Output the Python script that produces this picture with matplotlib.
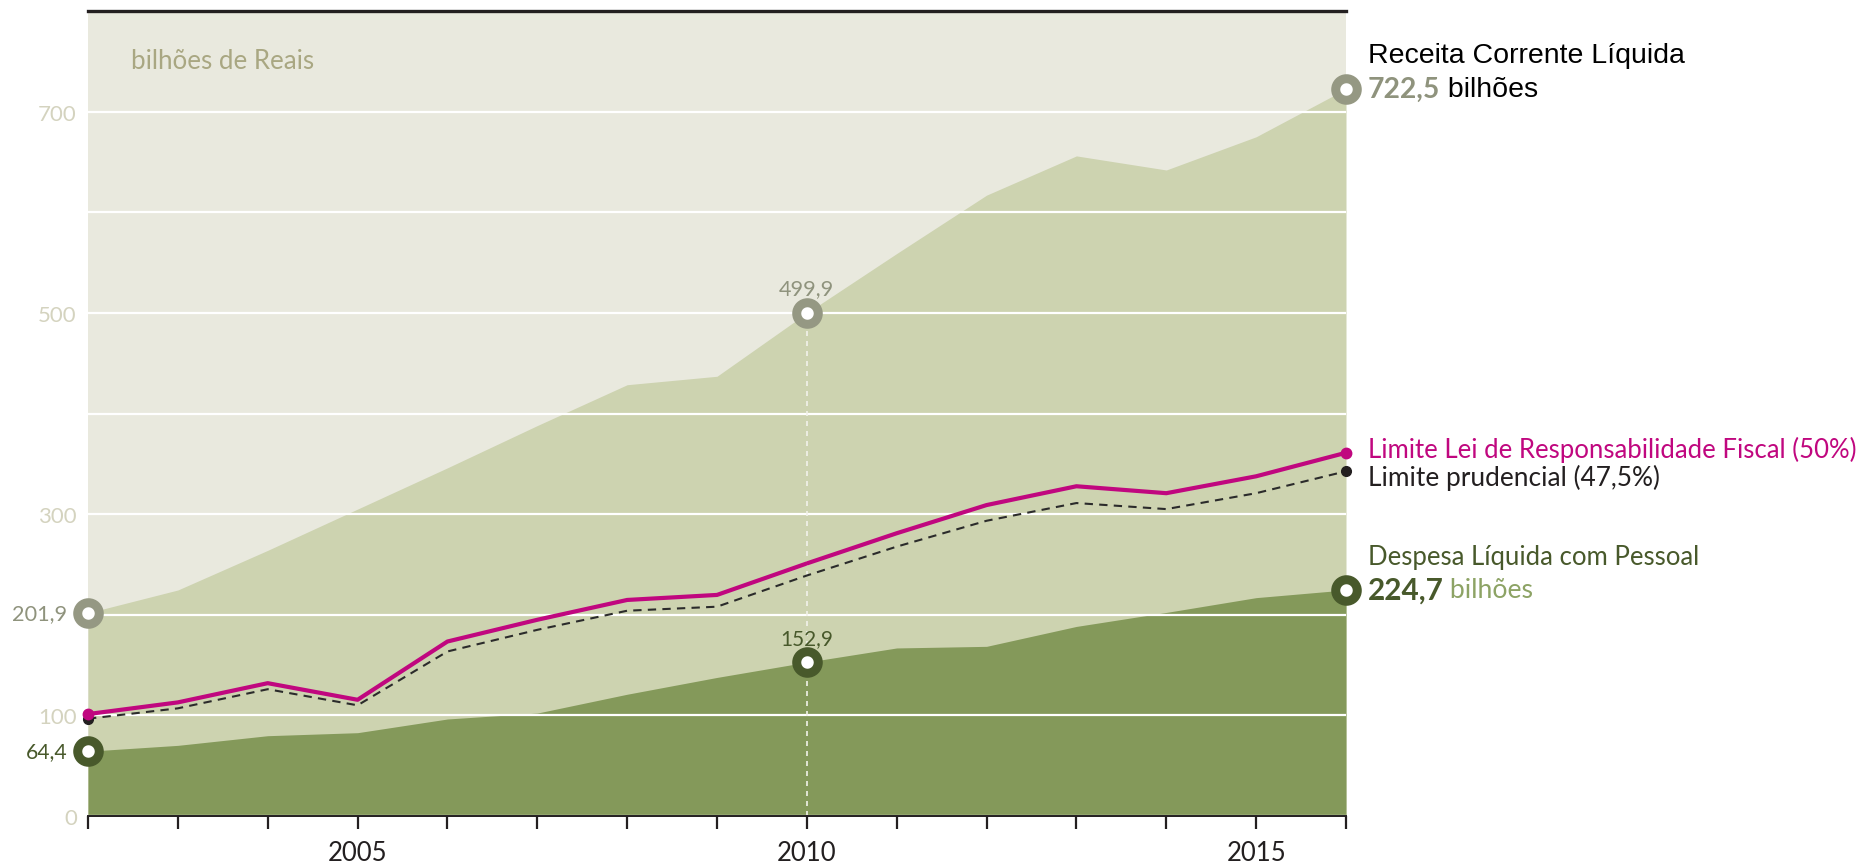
import matplotlib
matplotlib.use('Agg')
import matplotlib.pyplot as plt

# values (bilhões de Reais)
years = list(range(2002, 2017))
receita = [201.9, 224.6, 264, 305, 346, 388, 428.6, 437, 499.9, 559, 617, 656, 642, 675, 722.5]
despesa = [64.4, 70.2, 79.8, 82.8, 96.4, 102.3, 121, 137.7, 152.9, 167, 168.6, 188.4, 202.3, 217, 224.7]
limite_lrf = [101.3, 112.9, 132, 115.5, 173.4, 195, 214.7, 219.7, 251, 281, 309, 327.7, 320.8, 337.6, 361]
limite_prud = [96.7, 107, 126, 110, 163.5, 185, 204, 208, 239, 267.7, 293.4, 311, 305, 320.8, 342.6]

ytick_vals = [0, 100, 200, 300, 400, 500, 600, 700]
ytick_labels = ['0', '100', '', '300', '', '500', '', '700']
xtick_labels = ['', '', '', '2005', '', '', '', '', '2010', '', '', '', '', '2015', '']

# colours
bg = '#E9E9DE'
mid = '#CDD3B0'
dark = '#84995A'
ring_gray = '#959883'
ring_dark = '#48592B'
magenta = '#C0077F'
pale = '#D4D3BF'
txt_gray = '#8F937D'
ink = '#231F20'

plt.rcParams['font.family'] = ['Lato', 'DejaVu Sans']

W, H = 1865, 862
fig = plt.figure(figsize=(W / 100, H / 100), dpi=100)
ax = fig.add_axes([88 / W, 1 - 817 / H, (1346 - 88) / W, (817 - 12) / H])
ax.set_facecolor(bg)

ax.fill_between(years, 0, receita, color=mid, lw=0, zorder=1)
ax.fill_between(years, 0, despesa, color=dark, lw=0, zorder=1.1)

ax.set_xlim(2002, 2016)
ax.set_ylim(0, 800)

ax.set_yticks(ytick_vals)
ax.set_yticklabels(ytick_labels)
ax.grid(True, axis='y', color='white', lw=1.6)
ax.tick_params(axis='y', length=0, pad=8, labelcolor=pale, labelsize=16)

ax.set_xticks(years)
ax.set_xticklabels(xtick_labels)
ax.tick_params(axis='x', direction='out', length=9, width=1.6, color=ink,
               labelcolor=ink, labelsize=18.5, pad=8)

for s in ['left', 'right']:
    ax.spines[s].set_visible(False)
ax.spines['top'].set_linewidth(2.4)
ax.spines['top'].set_color(ink)
ax.spines['bottom'].set_linewidth(1.4)
ax.spines['bottom'].set_color(ink)

# dashed guide at 2010
i10 = years.index(2010)
ax.vlines(2010, 0, receita[i10], colors='#F2F2EA', lw=1.2, linestyles=(0, (3, 3)), zorder=2)

# limit lines
ax.plot(years, limite_lrf, color=magenta, lw=3, zorder=3, solid_capstyle='round')
ax.plot(years, limite_prud, color='#2B2B2B', lw=1.5, dashes=(4, 3), zorder=3)
ax.plot([years[0], years[-1]], [limite_lrf[0], limite_lrf[-1]], 'o', color=magenta,
        ms=7.5, zorder=4, clip_on=False)
ax.plot([years[0], years[-1]], [limite_prud[0], limite_prud[-1]], 'o', color=ink,
        ms=7, zorder=3.9, clip_on=False)

# ring markers
for idx in [0, i10, len(years) - 1]:
    ax.plot(years[idx], receita[idx], 'o', ms=15.5, mew=6.5, mfc='white', mec=ring_gray,
            zorder=5, clip_on=False)
    ax.plot(years[idx], despesa[idx], 'o', ms=15.5, mew=6.5, mfc='white', mec=ring_dark,
            zorder=5, clip_on=False)


def fmt(v):
    return f'{v:.1f}'.replace('.', ',')


renderer = fig.canvas.get_renderer()


def fit(t, width_px):
    # scale font so the text spans the same width as in the reference
    w = t.get_window_extent(renderer).width
    t.set_fontsize(t.get_fontsize() * width_px / w)
    return t


# value labels
fit(ax.annotate(fmt(receita[0]), (years[0], receita[0]), xytext=(-15, 0), textcoords='offset points',
                ha='right', va='center', fontsize=16, color=txt_gray, annotation_clip=False), 55)
fit(ax.annotate(fmt(despesa[0]), (years[0], despesa[0]), xytext=(-15, 0), textcoords='offset points',
                ha='right', va='center', fontsize=16, color=ring_dark, annotation_clip=False), 42)
fit(ax.annotate(fmt(receita[i10]), (2010, receita[i10]), xytext=(0, 18), textcoords='offset points',
                ha='center', va='center', fontsize=16, color=txt_gray), 55)
fit(ax.annotate(fmt(despesa[i10]), (2010, despesa[i10]), xytext=(0, 17), textcoords='offset points',
                ha='center', va='center', fontsize=16, color=ring_dark), 53)

fit(ax.text(0.034, 0.938, 'bilhões de Reais', transform=ax.transAxes, fontsize=18,
            color='#A9A782', va='center', ha='left'), 182)

# right side labels
xr = 2016.24
ax.text(xr, 756, 'Receita Corrente Líquida', fontsize=20.5, family='Liberation Sans',
        color='black', va='center', ha='left', clip_on=False)
t1 = fit(ax.text(xr, receita[-1], fmt(receita[-1]), fontsize=20, fontweight='bold',
                 color=txt_gray, va='center', ha='left', clip_on=False), 72)
ax.annotate(' bilhões', xy=(1, 0.5), xycoords=t1, va='center', ha='left',
            fontsize=20.5, family='Liberation Sans', color='black')

fit(ax.text(xr, 365, 'Limite Lei de Responsabilidade Fiscal (50%)', fontsize=19,
            color=magenta, va='center', ha='left', clip_on=False), 488)
fit(ax.text(xr, 337, 'Limite prudencial (47,5%)', fontsize=19,
            color=ink, va='center', ha='left', clip_on=False), 292)

fit(ax.text(xr, 258, 'Despesa Líquida com Pessoal', fontsize=19,
            color=ring_dark, va='center', ha='left', clip_on=False), 330)
t2 = fit(ax.text(xr, despesa[-1], fmt(despesa[-1]), fontsize=21, fontweight='bold',
                 color=ring_dark, va='center', ha='left', clip_on=False), 76)
fit(ax.annotate(' bilhões', xy=(1, 0.5), xycoords=t2, va='center', ha='left',
                fontsize=19, color='#8DA365'), 90)

fig.savefig('out.png', dpi=100)
